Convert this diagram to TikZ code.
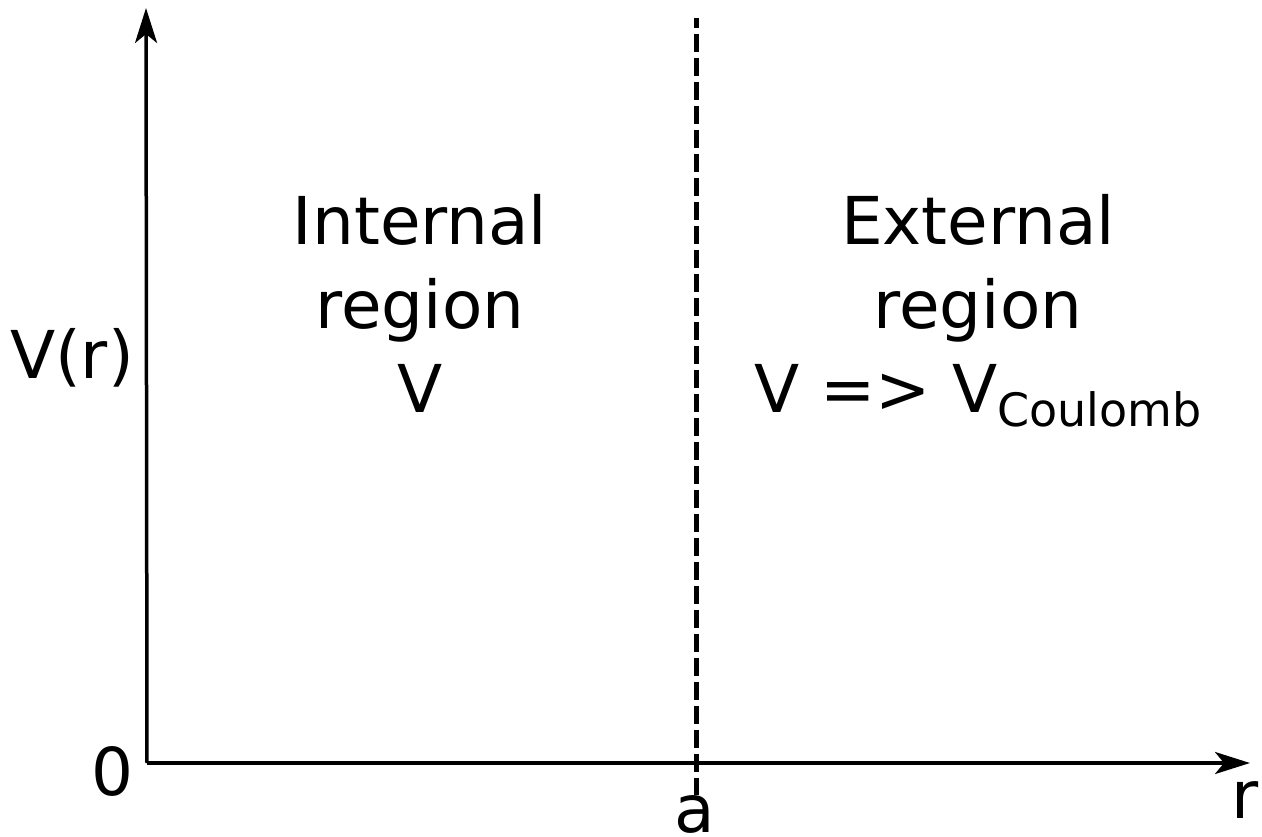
\documentclass[tikz,border=0pt]{standalone}
\usepackage{fontspec}
\setmainfont{DejaVu Sans}
\usetikzlibrary{arrows.meta}
\begin{document}
\begin{tikzpicture}[x=1pt,y=-1pt,
  axis/.style={line width=3.5pt,-{Stealth[length=35pt,width=22pt,inset=9pt]}},
  divider/.style={line width=5pt,dash pattern=on 18pt off 6pt,dash phase=8pt},
  lbl/.style={inner sep=0pt,anchor=base,font=\fontsize{66}{84}\selectfont},
  region/.style={lbl,align=center}]
\useasboundingbox (0,0) rectangle (1262,836);
\coordinate (O) at (147,763);
\coordinate (ytop) at (146,8);
\coordinate (xend) at (1250,763);
\coordinate (dtop) at (696,18);
\coordinate (dbot) at (696,795);
\draw[divider] (dtop) -- (dbot);
\draw[axis] (O) -- (ytop);
\draw[axis] (O) -- (xend);
\node[lbl] (vr) at (72,378) {V(r)};
\node[lbl] (zero) at (112,795) {0};
\node[lbl] (a) at (695,832) {a};
\node[lbl] (r) at (1245,818) {r};
\node[region,anchor=north] (int) at (420,194) {Internal\\region\\V};
\node[region,anchor=north] (ext) at (978,194) {External\\region\\V => V\raisebox{-14pt}{\fontsize{46}{46}\selectfont Coulomb}};
\end{tikzpicture}
\end{document}
